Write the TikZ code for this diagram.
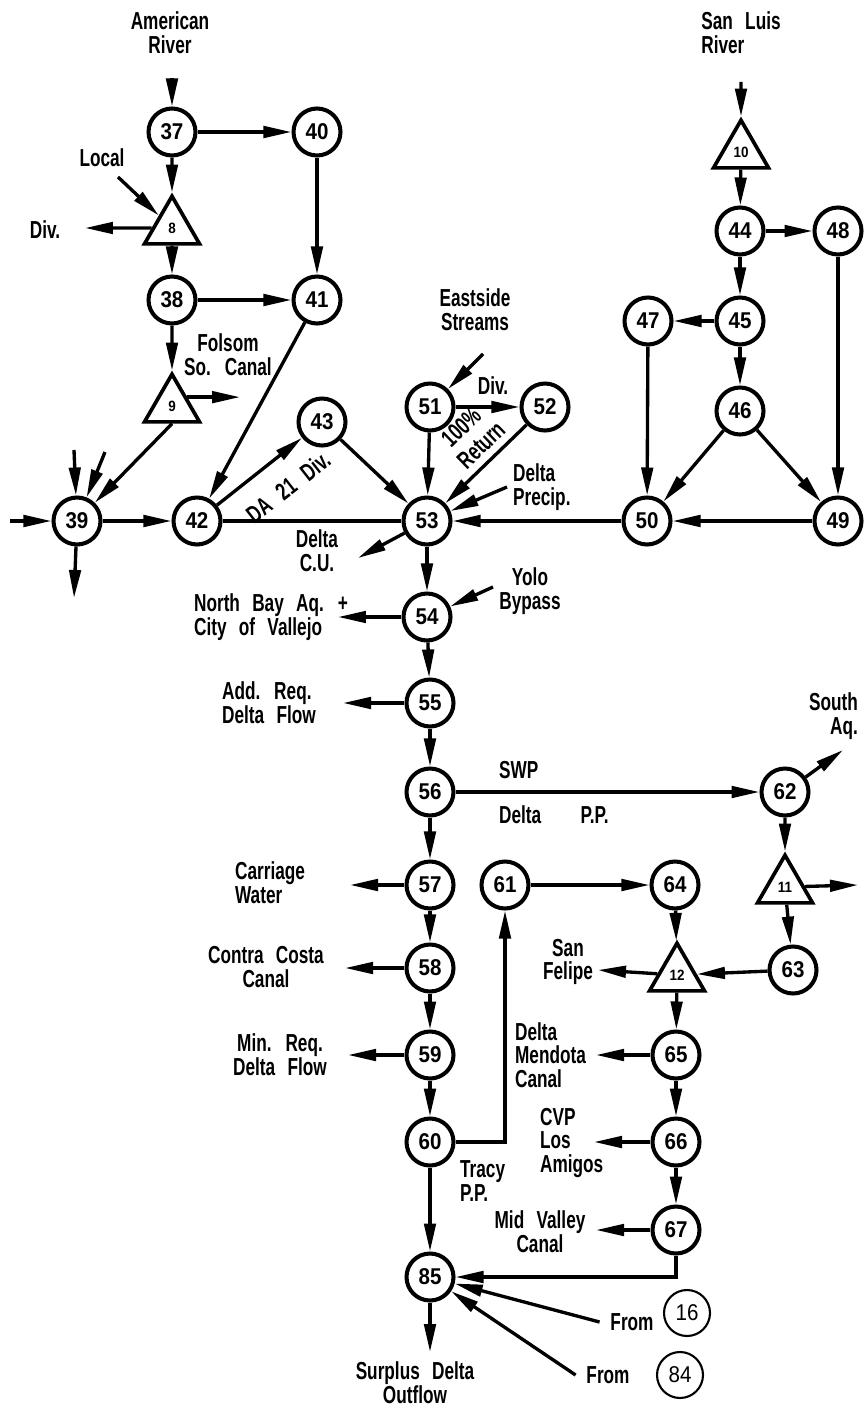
\documentclass[tikz,border=0pt]{standalone}
\usepackage{fontspec}
\setmainfont{Liberation Sans}[FakeStretch=0.7]
\newfontfamily\numfont{Liberation Sans}[FakeStretch=0.9]
\newcommand\lblfont{\bfseries\fontsize{14}{13.5}\selectfont\spaceskip 0.5em\relax}
\usetikzlibrary{arrows.meta,shapes.geometric}
\begin{document}
\begin{tikzpicture}[x=0.02cm,y=-0.02cm,
    res/.style={circle,draw,line width=2.3pt,minimum size=0.94cm,inner sep=0pt,font=\numfont\bfseries\fontsize{13}{13}\selectfont},
    tri/.style={regular polygon,regular polygon sides=3,draw,line width=2.1pt,minimum size=1.27cm,inner sep=0pt,font=\numfont\bfseries\fontsize{8.5}{8.5}\selectfont},
    ext/.style={circle,draw,line width=1.2pt,minimum size=0.92cm,inner sep=0pt,font=\numfont\fontsize{13}{13}\selectfont},
    lbl/.style={align=center,font=\lblfont,inner sep=1pt},
    flow/.style={line width=1.9pt,-{Triangle[length=5.6mm,width=2.3mm]}},
    pipe/.style={line width=1.9pt}]
    \useasboundingbox (0,0) rectangle (865,1409);
    \node (n37) at (172,132) [res] {37};
    \node (n40) at (317,132) [res] {40};
    \node (t8) at (172,228) [tri] {8};
    \node (n38) at (172,300) [res] {38};
    \node (n41) at (317,300) [res] {41};
    \node (t9) at (172,406) [tri] {9};
    \node (n39) at (77,521) [res] {39};
    \node (n42) at (197,521) [res] {42};
    \node (n43) at (322,422) [res] {43};
    \node (n51) at (430,407) [res] {51};
    \node (n52) at (545,407) [res] {52};
    \node (n53) at (427,521) [res] {53};
    \node (n50) at (647,521) [res] {50};
    \node (n49) at (838,521) [res] {49};
    \node (n46) at (740,411) [res] {46};
    \node (n47) at (648,321) [res] {47};
    \node (n45) at (740,321) [res] {45};
    \node (n44) at (740,231) [res] {44};
    \node (n48) at (838,231) [res] {48};
    \node (t10) at (741,152) [tri] {10};
    \node (n54) at (427,617) [res] {54};
    \node (n55) at (430,703) [res] {55};
    \node (n56) at (430,792) [res] {56};
    \node (n62) at (785,792) [res] {62};
    \node (t11) at (785,887) [tri] {11};
    \node (n57) at (430,885) [res] {57};
    \node (n61) at (505,885) [res] {61};
    \node (n64) at (675,885) [res] {64};
    \node (n58) at (430,968) [res] {58};
    \node (t12) at (677,975) [tri] {12};
    \node (n63) at (793,970) [res] {63};
    \node (n59) at (430,1055) [res] {59};
    \node (n65) at (676,1055) [res] {65};
    \node (n60) at (430,1142) [res] {60};
    \node (n66) at (676,1142) [res] {66};
    \node (n67) at (676,1230) [res] {67};
    \node (n85) at (430,1277) [res] {85};
    \node (n16) at (687,1313) [ext] {16};
    \node (n84) at (680,1375) [ext] {84};
    \node (lam) at (170,33) [lbl] {American\\River};
    \node (lloc) at (102,158) [lbl] {Local};
    \node (ldiv8) at (45,230) [lbl] {Div.};
    \node (lfsc) at (228,355) [lbl] {Folsom\\So. Canal};
    \node (lda) at (288,487) [lbl,rotate=38] {DA 21 Div.};
    \node (lcu) at (317,551) [lbl] {Delta\\C.U.};
    \node (les) at (475,310) [lbl] {Eastside\\Streams};
    \node (ldiv51) at (493,386) [lbl] {Div.};
    \node (lret1) at (461,427) [lbl,rotate=44] {100\%};
    \node (lret2) at (481,445) [lbl,rotate=44] {Return};
    \node (ldp) at (511,487) [lbl,anchor=west,align=left] {Delta\\Precip.};
    \node (lsl) at (741,33) [lbl,align=left] {San Luis\\River};
    \node (lyb) at (530,591) [lbl] {Yolo\\Bypass};
    \node (lnb) at (192,617) [lbl,anchor=west,align=left] {North Bay Aq. +\\City of Vallejo};
    \node (lar) at (220,703) [lbl,anchor=west,align=left] {Add. Req.\\Delta Flow};
    \node (lswp) at (497,770) [lbl,anchor=west] {SWP};
    \node (ldpp) at (497,815) [lbl,anchor=west] {Delta\hspace{1.6em}P.P.};
    \node (lsa) at (860,716) [lbl,anchor=east,align=right] {South\\Aq.};
    \node (lcw) at (233,883) [lbl,anchor=west,align=left] {Carriage\\Water};
    \node (lcc) at (266,967) [lbl] {Contra Costa\\Canal};
    \node (lmr) at (280,1055) [lbl] {Min. Req.\\Delta Flow};
    \node (ltr) at (458,1181) [lbl,anchor=west,align=left] {Tracy\\P.P.};
    \node (lsf) at (568,962) [lbl] {San\\Felipe};
    \node (ldm) at (513,1055) [lbl,anchor=west,align=left] {Delta\\Mendota\\Canal};
    \node (lcvp) at (538,1143) [lbl,anchor=west,align=left] {CVP\\Los\\Amigos};
    \node (lmv) at (540,1232) [lbl] {Mid Valley\\Canal};
    \node (lf16) at (632,1322) [lbl,inner xsep=6pt] {From};
    \node (lf84) at (608,1375) [lbl,inner xsep=6pt] {From};
    \node (lsd) at (415,1383) [lbl] {Surplus Delta\\Outflow};
    \coordinate (cam) at (172,78);
    \coordinate (cloc) at (118,177);
    \coordinate (cdiv8) at (85,228);
    \coordinate (cfsc) at (240,392);
    \coordinate (cin1) at (74,450);
    \coordinate (cin2) at (105,452);
    \coordinate (cin3) at (10,521);
    \coordinate (cout39) at (74,598);
    \coordinate (ces) at (483,354);
    \coordinate (cdp) at (507,487);
    \coordinate (csl) at (741,82);
    \coordinate (ccu) at (358,558);
    \coordinate (cyb) at (493,587);
    \coordinate (cnb) at (338,617);
    \coordinate (car) at (343,703);
    \coordinate (csa) at (843,750);
    \coordinate (c11) at (858,885);
    \coordinate (ccw) at (350,885);
    \coordinate (ccc) at (345,968);
    \coordinate (cmr) at (348,1055);
    \coordinate (csf) at (598,970);
    \coordinate (cdm) at (596,1055);
    \coordinate (ccvp) at (594,1142);
    \coordinate (cmv) at (596,1230);
    \coordinate (csd) at (430,1352);
    \draw[flow] (cam) -- (n37);
    \draw[flow] (n37) -- (n40);
    \draw[flow] (n37) -- (t8);
    \draw[flow] (cloc) -- (t8);
    \draw[flow] (t8) -- (cdiv8);
    \draw[flow] (t8) -- (n38);
    \draw[flow] (n40) -- (n41);
    \draw[flow] (n38) -- (n41);
    \draw[flow] (n38) -- (t9);
    \draw[flow] (t9.side 3) -- (t9.side 3 -| cfsc);
    \draw[flow] (t9.side 2) -- (n39);
    \draw[flow] (n41) -- (n42);
    \draw[flow] (cin1) -- (n39);
    \draw[flow] (cin2) -- (n39);
    \draw[flow] (cin3) -- (n39);
    \draw[flow] (n39) -- (cout39);
    \draw[flow] (n39) -- (n42);
    \draw[flow] (n42) -- (n43);
    \draw[pipe] (n42) -- (n53);
    \draw[flow] (n43) -- (n53);
    \draw[flow] (ces) -- (n51);
    \draw[flow] (n51) -- (n52);
    \draw[flow] (n52) -- (n53);
    \draw[flow] (n51) -- (n53);
    \draw[flow] (cdp) -- (n53);
    \draw[flow] (n50) -- (n53);
    \draw[flow] (n49) -- (n50);
    \draw[flow] (n46) -- (n50);
    \draw[flow] (n46) -- (n49);
    \draw[flow] (n47) -- (n50);
    \draw[flow] (n45) -- (n47);
    \draw[flow] (n45) -- (n46);
    \draw[flow] (n44) -- (n45);
    \draw[flow] (n44) -- (n48);
    \draw[flow] (n48) -- (n49);
    \draw[flow] (csl) -- (t10);
    \draw[flow] (t10) -- (n44);
    \draw[flow] (n53) -- (ccu);
    \draw[flow] (n53) -- (n54);
    \draw[flow] (cyb) -- (n54);
    \draw[flow] (n54) -- (cnb);
    \draw[flow] (n54) -- (n55);
    \draw[flow] (n55) -- (car);
    \draw[flow] (n55) -- (n56);
    \draw[flow] (n56) -- (n62);
    \draw[flow] (n62) -- (csa);
    \draw[flow] (n62) -- (t11);
    \draw[flow] (t11) -- (c11);
    \draw[flow] (t11) -- (n63);
    \draw[flow] (n56) -- (n57);
    \draw[flow] (n57) -- (ccw);
    \draw[flow] (n57) -- (n58);
    \draw[flow] (n58) -- (ccc);
    \draw[flow] (n58) -- (n59);
    \draw[flow] (n59) -- (cmr);
    \draw[flow] (n59) -- (n60);
    \draw[flow] (n60) -- (n85);
    \draw[flow] (n60) -| (n61);
    \draw[flow] (n61) -- (n64);
    \draw[flow] (n64) -- (t12);
    \draw[flow] (n63) -- (t12);
    \draw[flow] (t12) -- (csf);
    \draw[flow] (t12) -- (n65);
    \draw[flow] (n65) -- (cdm);
    \draw[flow] (n65) -- (n66);
    \draw[flow] (n66) -- (ccvp);
    \draw[flow] (n66) -- (n67);
    \draw[flow] (n67) -- (cmv);
    \draw[flow] (n67) |- (n85);
    \draw[flow] (lf16.west) -- (n85);
    \draw[flow] (lf84.west) -- (n85);
    \draw[flow] (n85) -- (csd);
\end{tikzpicture}
\end{document}
